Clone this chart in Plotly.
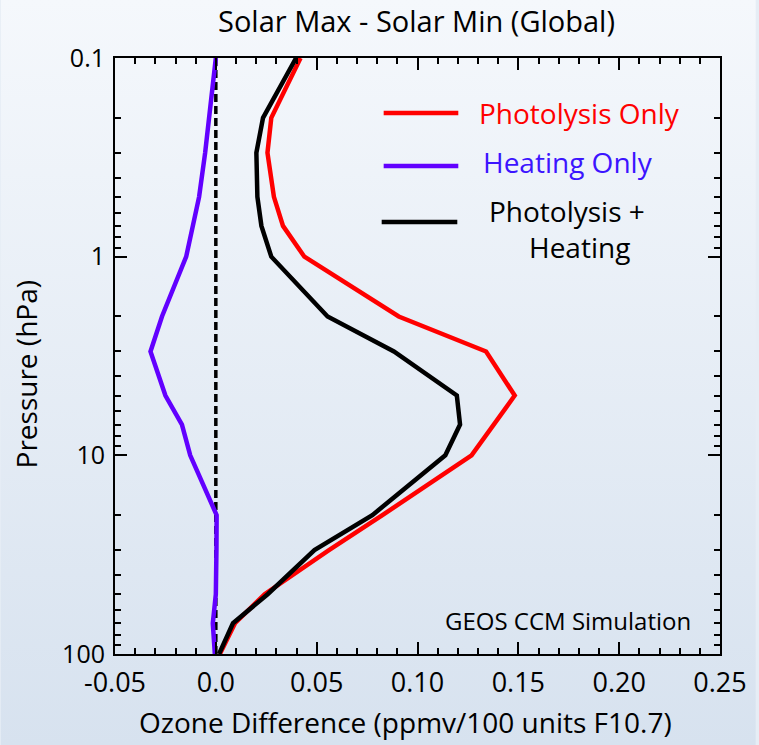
import base64
import plotly.graph_objects as go

# ---------------- data ----------------
pressure = [0.1, 0.2, 0.3, 0.5, 0.7, 1, 2, 3, 5, 7, 10, 20, 30, 50, 70, 100]
photolysis_only = [0.042, 0.0275, 0.0256, 0.0288, 0.0333, 0.0439, 0.0907, 0.134, 0.1482,
                   0.1379, 0.1268, 0.0826, 0.0561, 0.0242, 0.0095, 0.002]
heating_only = [0.0, -0.0033, -0.0053, -0.0083, -0.0112, -0.0147, -0.0267, -0.0324, -0.025,
                -0.0168, -0.0127, 0.0004, 0.0003, 0.0, -0.0015, -0.0005]
photolysis_heating = [0.0398, 0.0234, 0.0201, 0.0206, 0.0226, 0.0275, 0.0554, 0.0883, 0.1195,
                      0.1211, 0.1138, 0.0776, 0.0489, 0.0257, 0.0085, 0.0016]
zero_line_x = [0.0, 0.0]
zero_line_p = [0.1, 100]

x_tickvals = [-0.05, 0.0, 0.05, 0.10, 0.15, 0.20, 0.25]
x_ticktext = ["-0.05", "0.0", "0.05", "0.10", "0.15", "0.20", "0.25"]
y_tickvals = [0.1, 1, 10, 100]
y_ticktext = ["0.1", "1", "10", "100"]
y_minorvals = [m * d for d in (0.1, 1, 10) for m in range(2, 10)]

# ---------------- layout geometry ----------------
W, H = 759, 745
L, R, T, B = 115, 723, 58, 654
FONT = "Open Sans"


def px(x):
    return (x - L) / (R - L)


def py(y):
    return (B - y) / (B - T)


RED = "#ff0000"
PURPLE = "#6200ff"
BLUE_TXT = "#3c14ff"

fig = go.Figure()
fig.add_trace(go.Scatter(x=zero_line_x, y=zero_line_p, mode="lines",
                         line=dict(color="black", width=3.5, dash="8px,4px"),
                         showlegend=False, hoverinfo="skip"))
fig.add_trace(go.Scatter(x=heating_only, y=pressure, mode="lines",
                         line=dict(color=PURPLE, width=4.5), name="Heating Only", showlegend=False))
fig.add_trace(go.Scatter(x=photolysis_only, y=pressure, mode="lines",
                         line=dict(color=RED, width=4.5), name="Photolysis Only", showlegend=False))
fig.add_trace(go.Scatter(x=photolysis_heating, y=pressure, mode="lines",
                         line=dict(color="black", width=4.5), name="Photolysis + Heating",
                         showlegend=False))

svg = (f'<svg xmlns="http://www.w3.org/2000/svg" width="{W}" height="{H}" preserveAspectRatio="none">'
       '<defs><linearGradient id="g" x1="0" y1="0" x2="0" y2="1">'
       '<stop offset="0" stop-color="#f5f8fc"/><stop offset="1" stop-color="#d7e2ef"/>'
       '</linearGradient></defs>'
       f'<rect width="{W}" height="{H}" fill="url(#g)"/></svg>')
src = "data:image/svg+xml;base64," + base64.b64encode(svg.encode()).decode()

shapes = []
annotations = []
legend_items = [
    (385, 460, 113, RED, "Photolysis Only", 479, 113, RED),
    (385, 460, 166, PURPLE, "Heating Only", 483, 162, BLUE_TXT),
    (383, 459, 222, "black", "Photolysis +", 489, 211, "black"),
]
for x0, x1, yy, col, txt, tx, ty, tcol in legend_items:
    shapes.append(dict(type="line", xref="paper", yref="paper", x0=px(x0), x1=px(x1),
                       y0=py(yy), y1=py(yy), line=dict(color=col, width=4.5)))
    annotations.append(dict(text=txt, xref="paper", yref="paper", x=px(tx), y=py(ty),
                            xanchor="left", yanchor="middle", showarrow=False,
                            font=dict(family=FONT, size=28, color=tcol)))
annotations.append(dict(text="Heating", xref="paper", yref="paper", x=px(529), y=py(247),
                        xanchor="left", yanchor="middle", showarrow=False,
                        font=dict(family=FONT, size=28, color="black")))
annotations.append(dict(text="GEOS CCM Simulation", xref="paper", yref="paper", x=px(445), y=py(620),
                        xanchor="left", yanchor="middle", showarrow=False,
                        font=dict(family=FONT, size=24, color="black")))
annotations.append(dict(text="Solar Max - Solar Min (Global)", xref="paper", yref="paper",
                        x=px(418), y=py(21), xanchor="center", yanchor="middle", showarrow=False,
                        font=dict(family=FONT, size=29, color="black")))
annotations.append(dict(text="Ozone Difference (ppmv/100 units F10.7)", xref="paper", yref="paper",
                        x=px(407), y=py(722), xanchor="center", yanchor="middle", showarrow=False,
                        font=dict(family=FONT, size=28, color="black")))
annotations.append(dict(text="Pressure (hPa)", xref="paper", yref="paper", textangle=-90,
                        x=px(26), y=py(374), xanchor="center", yanchor="middle", showarrow=False,
                        font=dict(family=FONT, size=28, color="black")))

fig.update_layout(
    width=W, height=H,
    margin=dict(l=L, r=W - R, t=T, b=H - B, pad=0),
    paper_bgcolor="#e6edf5", plot_bgcolor="rgba(0,0,0,0)",
    images=[dict(source=src, xref="paper", yref="paper", x=px(0), y=py(0),
                 sizex=W / (R - L), sizey=H / (B - T), xanchor="left", yanchor="top",
                 sizing="stretch", layer="below")],
    shapes=shapes, annotations=annotations, showlegend=False,
    font=dict(family=FONT, color="black"),
)
fig.update_xaxes(range=[-0.05, 0.25], tickvals=x_tickvals, ticktext=x_ticktext,
                 ticks="inside", ticklen=12, tickwidth=1.5, tickcolor="black",
                 showline=True, linecolor="black", linewidth=2, mirror="ticks",
                 showgrid=False, zeroline=False, ticklabelstandoff=4,
                 tickfont=dict(family=FONT, size=27, color="black"),
                 minor=dict(dtick=0.01, tick0=0, ticks="inside", ticklen=6, tickwidth=1.5,
                            tickcolor="black", showgrid=False))
fig.update_yaxes(type="log", range=[2, -1], tickvals=y_tickvals, ticktext=y_ticktext,
                 ticks="inside", ticklen=12, tickwidth=1.5, tickcolor="black",
                 showline=True, linecolor="black", linewidth=2, mirror="ticks",
                 showgrid=False, zeroline=False, ticklabelstandoff=3,
                 tickfont=dict(family=FONT, size=25, color="black"),
                 minor=dict(tickvals=y_minorvals, ticks="inside", ticklen=6, tickwidth=1.5,
                            tickcolor="black", showgrid=False))

fig.write_html("out.html")
